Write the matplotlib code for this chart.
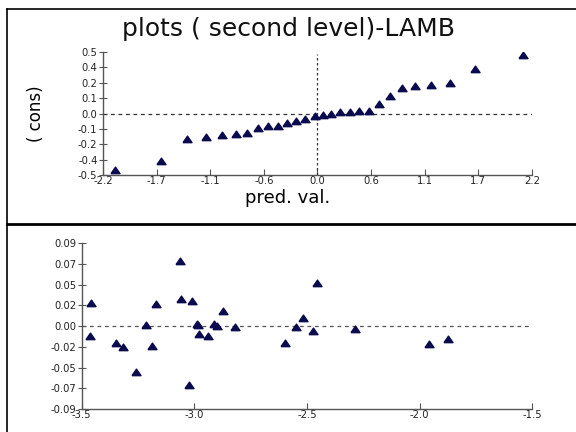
import numpy as np
import matplotlib
matplotlib.use("Agg")
import matplotlib.pyplot as plt
from matplotlib.lines import Line2D

# top panel: predicted value vs (cons)
pred_val = [-2.08, -1.60, -1.34, -1.14, -0.98, -0.84, -0.72, -0.61, -0.51, -0.41,
            -0.31, -0.22, -0.13, -0.03, 0.055, 0.14, 0.23, 0.33, 0.43, 0.53,
            0.63, 0.74, 0.87, 1.00, 1.16, 1.36, 1.62, 2.11]
cons = [-0.442, -0.367, -0.197, -0.185, -0.164, -0.161, -0.156, -0.117, -0.094, -0.094,
        -0.073, -0.057, -0.039, -0.016, -0.008, 0.0, 0.008, 0.010, 0.016, 0.021,
        0.076, 0.135, 0.200, 0.211, 0.221, 0.236, 0.349, 0.458]

top_xticks = [-2.2, -1.65, -1.1, -0.55, 0.0, 0.55, 1.1, 1.65, 2.2]
top_xlabels = ['-2.2', '-1.7', '-1.1', '-0.6', '0.0', '0.6', '1.1', '1.7', '2.2']
top_yticks = [-0.48, -0.36, -0.24, -0.12, 0.0, 0.12, 0.24, 0.36, 0.48]
top_ylabels = ['-0.5', '-0.4', '-0.2', '-0.1', '0.0', '0.1', '0.2', '0.4', '0.5']

# bottom panel
bx = [-3.459, -3.463, -3.348, -3.315, -3.260, -3.216, -3.187, -3.169, -3.065, -3.059,
      -3.025, -3.009, -2.990, -2.983, -2.978, -2.938, -2.912, -2.901, -2.874, -2.820,
      -2.598, -2.550, -2.517, -2.475, -2.457, -2.286, -1.960, -1.875]
by = [0.0252, -0.0114, -0.0192, -0.0230, -0.0508, 0.0008, -0.0219, 0.0248, 0.0725, 0.0297,
      -0.0648, 0.0281, 0.0019, 0.0008, -0.0086, -0.0114, 0.0022, -0.0003, 0.0170, -0.0014,
      -0.0192, -0.0008, 0.0086, -0.0059, 0.0474, -0.0037, -0.0203, -0.0144]

bot_xticks = [-3.5, -3.0, -2.5, -2.0, -1.5]
bot_xlabels = ['-3.5', '-3.0', '-2.5', '-2.0', '-1.5']
bot_yticks = [-0.092, -0.069, -0.046, -0.023, 0.0, 0.023, 0.046, 0.069, 0.092]
bot_ylabels = ['-0.09', '-0.07', '-0.05', '-0.02', '0.00', '0.02', '0.05', '0.07', '0.09']

plt.rcParams['font.family'] = ['DejaVu Sans']
mcol = '#0a0a4e'
axcol = '#555555'
tri = [(-1, -0.7), (1, -0.7), (0, 0.75), (-1, -0.7)]  # flat triangle marker

fig = plt.figure(figsize=(5.76, 4.32), dpi=100)


def style_axes(ax):
    for s in ['top', 'right']:
        ax.spines[s].set_visible(False)
    for s in ['left', 'bottom']:
        ax.spines[s].set_color(axcol)
        ax.spines[s].set_linewidth(1.0)
    ax.tick_params(axis='x', direction='in', length=4, color=axcol, labelsize=7.2,
                   labelcolor='#222222', pad=1)
    ax.tick_params(axis='y', direction='inout', length=6, color=axcol, labelsize=7.2,
                   labelcolor='#222222', pad=1)


ax1 = fig.add_axes([0.1788, 0.5949, 0.7448, 0.2847])
ax1.axhline(0, color='#333333', lw=0.9, ls=(0, (3, 3)))
ax1.axvline(0, ymax=0.98, color='#333333', lw=0.9, ls=(0, (2, 2)))
ax1.plot(pred_val, cons, marker=tri, color=mcol, markersize=6.5, ls='none')
ax1.set_xlim(-2.2, 2.2)
ax1.set_ylim(-0.48, 0.48)
ax1.set_xticks(top_xticks)
ax1.set_xticklabels(top_xlabels)
ax1.set_yticks(top_yticks)
ax1.set_yticklabels(top_ylabels)
style_axes(ax1)
ax1.set_xlabel('pred. val.', fontsize=13)
ax1.xaxis.set_label_coords(0.431, -0.11)
ax1.set_ylabel('( cons)', fontsize=12, labelpad=24)

fig.text(0.5, 0.917, 'plots ( second level)-LAMB', fontsize=18, ha='center',
         va='baseline', color='#111111')

ax2 = fig.add_axes([0.1418, 0.0532, 0.7823, 0.3836])
ax2.axhline(0, color='#555555', lw=0.9, ls=(0, (3, 3)))
ax2.plot(bx, by, marker=tri, color=mcol, markersize=6.5, ls='none')
ax2.set_xlim(-3.5, -1.5)
ax2.set_ylim(-0.092, 0.092)
ax2.set_xticks(bot_xticks)
ax2.set_xticklabels(bot_xlabels)
ax2.set_yticks(bot_yticks)
ax2.set_yticklabels(bot_ylabels)
style_axes(ax2)

# frame lines around the panels
fig.add_artist(Line2D([0.0122, 1.0], [0.9792, 0.9792], color='black', lw=1.2))
fig.add_artist(Line2D([0.0122, 0.0122], [0.0, 0.9792], color='black', lw=1.2))
fig.add_artist(Line2D([0.0122, 1.0], [0.4815, 0.4815], color='black', lw=2.0))

fig.savefig('out.png', dpi=100)
